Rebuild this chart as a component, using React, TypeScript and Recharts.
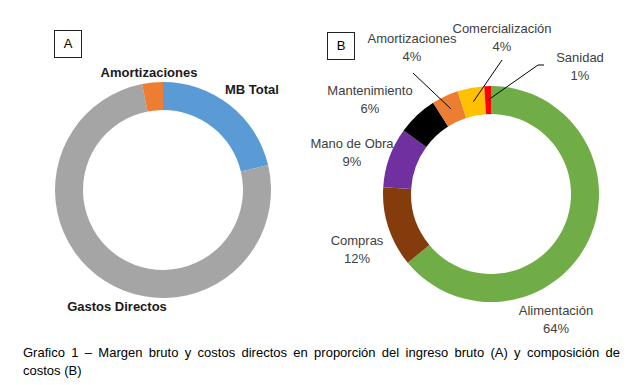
import { PieChart, Pie, Cell } from "recharts";

// Grafico A: margen bruto y costos directos (% del ingreso bruto)
const aNames = ["MB Total", "Gastos Directos", "Amortizaciones"];
const aValues = [21.3, 75.6, 3.1];
const aColors = ["#5B9BD5", "#A5A5A5", "#ED7D31"];

// Grafico B: composición de costos (%)
const bNames = [
  "Alimentación",
  "Compras",
  "Mano de Obra",
  "Mantenimiento",
  "Amortizaciones",
  "Comercialización",
  "Sanidad",
];
const bValues = [64, 12, 9, 6, 4, 4, 1];
const bColors = ["#70AD47", "#843C0C", "#7030A0", "#000000", "#ED7D31", "#FFC000", "#FF0000"];

const caption1 =
  "Grafico 1 – Margen bruto y costos directos en proporción del ingreso bruto (A) y composición de";
const caption2 = "costos (B)";

const dataA = aNames.map((name, i) => ({ name, value: aValues[i] }));
const dataB = bNames.map((name, i) => ({ name, value: bValues[i] }));

const FONT = "'Liberation Sans', Arial, sans-serif";
const RAD = Math.PI / 180;

// label placement relative to pie centre (like Excel's dragged labels)
type Place = { dx: number; dy: number; line?: [number, number][] };
const placeA: Record<string, Place> = {
  "MB Total": { dx: 89, dy: -101 },
  "Gastos Directos": { dx: -46, dy: 116 },
  Amortizaciones: { dx: -14, dy: -118 },
};
const placeB: Record<string, Place> = {
  "Alimentación": { dx: 65, dy: 116 },
  Compras: { dx: -134, dy: 46 },
  "Mano de Obra": { dx: -139, dy: -51 },
  Mantenimiento: { dx: -121, dy: -104 },
  Amortizaciones: { dx: -79, dy: -156, line: [[-78, -121]] },
  "Comercialización": { dx: 11, dy: -166, line: [[11, -134]] },
  Sanidad: { dx: 89, dy: -137, line: [[53, -129], [47, -129]] },
};

function labelA(props: any) {
  const { cx, cy, name } = props;
  const p = placeA[name];
  return (
    <text
      x={cx + p.dx}
      y={cy + p.dy}
      textAnchor="middle"
      dominantBaseline="central"
      fontFamily={FONT}
      fontSize={13}
      fontWeight="bold"
      fill="#1a1a1a"
    >
      {name}
    </text>
  );
}

function labelB(props: any) {
  const { cx, cy, name, midAngle, innerRadius, outerRadius, percent } = props;
  const p = placeB[name];
  const r = (innerRadius + outerRadius) / 2;
  const ex = cx + r * Math.cos(-midAngle * RAD);
  const ey = cy + r * Math.sin(-midAngle * RAD);
  let path = "";
  if (p.line) {
    path = p.line.map(([x, y], i) => `${i ? "L" : "M"}${cx + x},${cy + y}`).join(" ");
    path += ` L${ex},${ey}`;
  }
  return (
    <g>
      {path && <path d={path} stroke="#000" strokeWidth={1} fill="none" />}
      <text
        x={cx + p.dx}
        y={cy + p.dy}
        textAnchor="middle"
        dominantBaseline="central"
        fontFamily={FONT}
        fontSize={13}
        fill="#404040"
      >
        {name}
      </text>
      <text
        x={cx + p.dx}
        y={cy + p.dy + 18}
        textAnchor="middle"
        dominantBaseline="central"
        fontFamily={FONT}
        fontSize={13}
        fill="#404040"
      >
        {`${Math.round(percent * 100)}%`}
      </text>
    </g>
  );
}

const boxStyle = (left: number, top: number) =>
  ({
    position: "absolute",
    left,
    top,
    width: 26,
    height: 26,
    border: "1px solid #222",
    fontFamily: FONT,
    fontSize: 13,
    lineHeight: "26px",
    textAlign: "center",
    color: "#000",
    background: "#fff",
  }) as const;

export default function App() {
  return (
    <div
      style={{
        position: "absolute",
        left: 0,
        top: 0,
        width: 640,
        height: 385,
        background: "#fff",
        overflow: "hidden",
      }}
    >
      <PieChart width={640} height={340} margin={{ top: 0, right: 0, bottom: 0, left: 0 }}>
        <Pie
          data={dataA}
          dataKey="value"
          nameKey="name"
          cx={163}
          cy={190}
          innerRadius={80}
          outerRadius={108}
          startAngle={90}
          endAngle={-270}
          stroke="none"
          label={labelA}
          labelLine={false}
          isAnimationActive={false}
        >
          {dataA.map((d, i) => (
            <Cell key={d.name} fill={aColors[i]} />
          ))}
        </Pie>
        <Pie
          data={dataB}
          dataKey="value"
          nameKey="name"
          cx={491}
          cy={194}
          innerRadius={80}
          outerRadius={108}
          startAngle={90}
          endAngle={-270}
          stroke="none"
          label={labelB}
          labelLine={false}
          isAnimationActive={false}
        >
          {dataB.map((d, i) => (
            <Cell key={d.name} fill={bColors[i]} />
          ))}
        </Pie>
      </PieChart>
      <div style={boxStyle(54, 30)}>A</div>
      <div style={boxStyle(327, 32)}>B</div>
      <div
        style={{
          position: "absolute",
          left: 23,
          top: 344,
          width: 597,
          fontFamily: FONT,
          fontSize: 13,
          lineHeight: "18px",
          color: "#000",
        }}
      >
        <div style={{ textAlign: "justify", textAlignLast: "justify", whiteSpace: "nowrap" }}>
          {caption1}
        </div>
        <div>{caption2}</div>
      </div>
    </div>
  );
}
